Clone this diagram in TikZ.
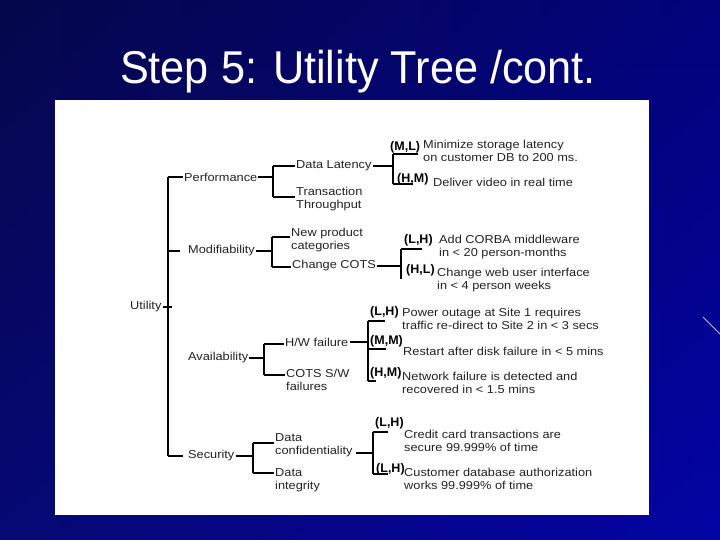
\documentclass[tikz,border=0pt]{standalone}
\usepackage{fontspec}
\setmainfont{Liberation Sans}
\newfontfamily\treefont[FakeStretch=1.11]{Liberation Sans}
\newfontfamily\titlefont[FakeStretch=0.94]{Liberation Sans}
\usetikzlibrary{calc}
\definecolor{bgleft}{RGB}{8,10,100}
\definecolor{bgright}{RGB}{4,4,165}
\definecolor{treetext}{RGB}{35,35,35}
\definecolor{streak}{RGB}{200,175,255}
\tikzset{
  tx/.style={font=\treefont\fontsize{11.5}{13.5}\selectfont, text=treetext, inner xsep=1pt, inner ysep=0pt, anchor=west, align=left},
  lbl/.style={font=\bfseries\fontsize{12.5}{14}\selectfont, text=black, inner sep=0pt, anchor=west},
  ln/.style={line width=1.1pt, draw=black},
  lk/.style={line width=2.6pt, draw=black},
  ttl/.style={font=\titlefont\fontsize{46}{50}\selectfont, text=white, inner sep=0pt, anchor=base}
}
\begin{document}
\begin{tikzpicture}[x=1pt,y=-1pt]
\useasboundingbox (0,0) rectangle (720,540);
\shade[left color=bgleft, right color=bgright] (0,0) rectangle (720,540);
\shade[top color=black, bottom color=bgright, opacity=0.25] (0,0) rectangle (720,540);
\draw[streak, line width=0.8pt] (703,317) -- (720,334);
\fill[white] (55,100) rectangle (649,515);
\node[ttl] (title) at (358,84) {Step 5: Utility Tree /cont.};

% level nodes
\node[tx] (utility) at (129,307) {Utility};
\node[tx] (perf) at (183,177) {Performance};
\node[tx] (modi) at (187,251) {Modifiability};
\node[tx] (avail) at (187,358) {Availability};
\node[tx] (sec) at (187,456) {Security};

\node[tx] (dl) at (295,166) {Data Latency};
\node[tx] (tt) at (295,199) {Transaction\\Throughput};
\node[tx] (np) at (290,240) {New product\\categories};
\node[tx] (cc) at (291,266) {Change COTS};
\node[tx] (hw) at (284,342) {H/W failure};
\node[tx] (cs) at (285,380) {COTS S/W\\failures};
\node[tx] (dc) at (274,445) {Data\\confidentiality};
\node[tx] (di) at (274,480) {Data\\integrity};

% leaves
\node[lbl] (lab1) at (390,147) {(M,L)};
\node[tx] (txt1) at (422,151) {Minimize storage latency\\on customer DB to 200 ms.};
\node[lbl] (lab2) at (397,179) {(H,M)};
\node[tx] (txt2) at (432,182) {Deliver video in real time};
\node[lbl] (lab3) at (404,240) {(L,H)};
\node[tx] (txt3) at (438,247) {Add CORBA middleware\\in < 20 person-months};
\node[lbl] (lab4) at (406,270) {(H,L)};
\node[tx] (txt4) at (436,280) {Change web user interface\\in < 4 person weeks};
\node[lbl] (lab5) at (370,312) {(L,H)};
\node[tx] (txt5) at (401,319) {Power outage at Site 1 requires\\traffic re-direct to Site 2 in < 3 secs};
\node[lbl] (lab6) at (370,341) {(M,M)};
\node[tx] (txt6) at (402,351) {Restart after disk failure in < 5 mins};
\node[lbl] (lab7) at (370,373) {(H,M)};
\node[tx] (txt7) at (401,383) {Network failure is detected and\\recovered in < 1.5 mins};
\node[lbl] (lab8) at (375,423) {(L,H)};
\node[tx] (txt8) at (403,441) {Credit card transactions are\\secure 99.999\% of time};
\node[lbl] (lab9) at (376,469) {(L,H)};
\node[tx] (txt9) at (403,479) {Customer database authorization\\works 99.999\% of time};

% trunk
\coordinate (t1) at (168,177);
\coordinate (t2) at (168,251);
\coordinate (t5) at (168,456);
\coordinate (m0) at (180,251);
\coordinate (s0) at (183,456);
\coordinate (u1) at (172,307);
\draw[ln] (t1) -- (t5);
\draw[lk] (t1) -- (perf.west);
\draw[ln] (t2) -- (m0);
\draw[ln] (t5) -- (s0);
\draw[ln] (utility.east) -- (u1);

% performance
\coordinate (pbt) at (273,166);
\coordinate (pbb) at (273,197);
\draw[ln] (perf.east) -- (perf.east -| pbt);
\draw[ln] (pbt) -- (pbb);
\draw[ln] (pbt) -- (dl.west);
\draw[lk] (pbb) -- (pbb -| tt.west);

% modifiability
\coordinate (mbt) at (272,237);
\coordinate (mbb) at (272,267);
\draw[ln] (modi.east) -- (modi.east -| mbt);
\draw[ln] (mbt) -- (mbb);
\draw[ln] (mbt) -- (mbt -| np.west);
\draw[lk] (mbb) -- (mbb -| cc.west);

% availability
\coordinate (abt) at (264,344);
\coordinate (abb) at (264,375);
\draw[ln] (avail.east) -- (avail.east -| abt);
\draw[lk] (abt) -- (abb);
\draw[lk] (abt) -- (abt -| hw.west);
\draw[ln] (abb) -- (abb -| cs.west);

% security
\coordinate (sbt) at (253,443);
\coordinate (sbb) at (253,473);
\draw[lk] (sec.east) -- (sec.east -| sbt);
\draw[lk] (sbt) -- (sbb);
\draw[ln] (sbt) -- (sbt -| dc.west);
\draw[lk] (sbb) -- (sbb -| di.west);

% data latency
\coordinate (dbt) at (393,154);
\coordinate (dbb) at (393,184);
\coordinate (dbte) at (418,154);
\coordinate (dbbe) at (413,184);
\draw[ln] (dl.east) -- (dl.east -| dbt);
\draw[ln] (dbt) -- (dbb);
\draw[lk] (dbt) -- (dbte);
\draw[ln] (dbb) -- (dbbe);

% change cots
\coordinate (cbt) at (401,249);
\coordinate (cbb) at (401,279);
\coordinate (cbte) at (422,249);
\draw[ln] (cc.east) -- (cc.east -| cbt);
\draw[lk] (cbt) -- (cbb);
\draw[lk] (cbt) -- (cbte);

% h/w failure
\coordinate (hbt) at (368,321);
\coordinate (hbm) at (368,349);
\coordinate (hbb) at (368,381);
\coordinate (hbte) at (385,321);
\coordinate (hbme) at (386,349);
\coordinate (hbbe) at (376,381);
\draw[lk] (hw.east) -- (hw.east -| hbt);
\draw[lk] (hbt) -- (hbb);
\draw[lk] (hbt) -- (hbte);
\draw[ln] (hbm) -- (hbme);
\draw[lk] (hbb) -- (hbbe);

% confidentiality
\coordinate (cfj) at (373,453);
\coordinate (cft) at (373,432);
\coordinate (cfb) at (373,474);
\coordinate (cfte) at (388,432);
\coordinate (cfbe) at (388,474);
\draw[lk] ($(dc.east |- cfj)+(2,0)$) -- (cfj);
\draw[ln] (cft) -- (cfb);
\draw[ln] (cft) -- (cfte);
\draw[ln] (cfb) -- (cfbe);
\end{tikzpicture}
\end{document}
